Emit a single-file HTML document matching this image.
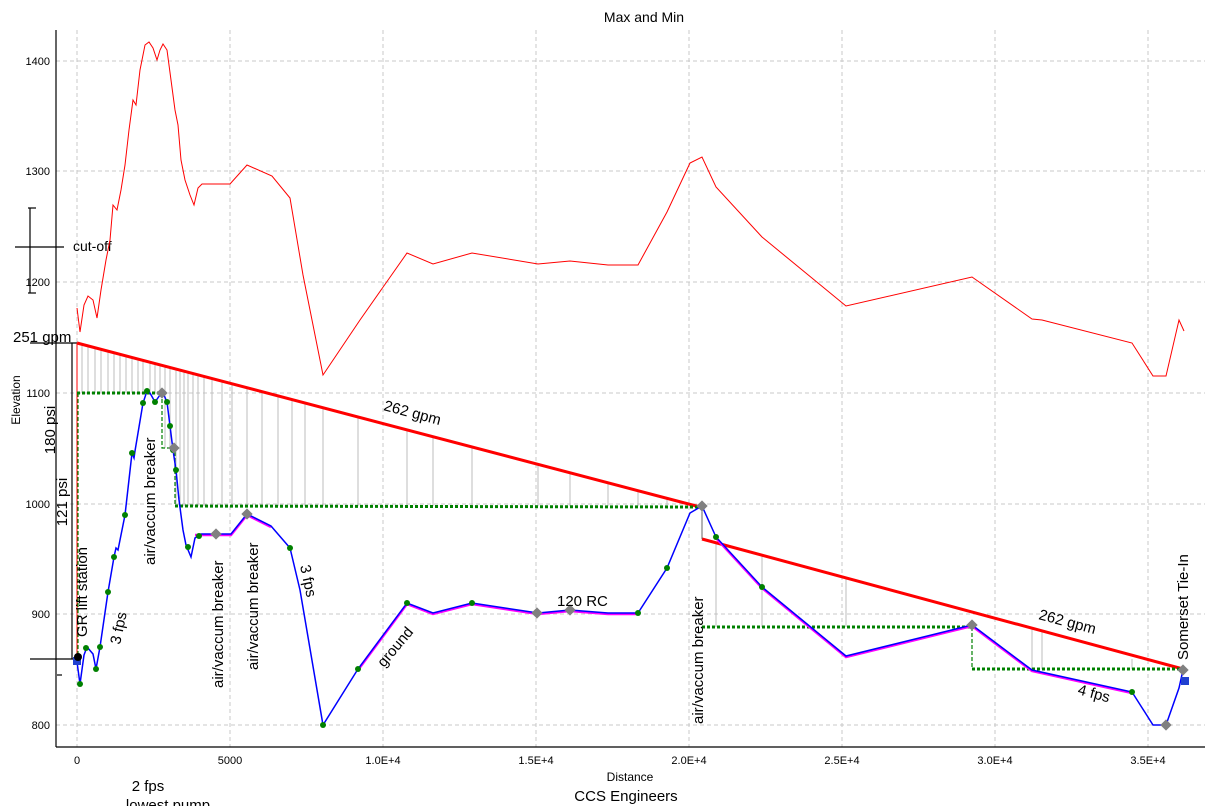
<!DOCTYPE html>
<html><head><meta charset="utf-8"><style>
html,body{margin:0;padding:0;background:#fff;}
svg{display:block;font-family:"Liberation Sans",Arial,sans-serif;}
</style></head><body>
<svg width="1211" height="806" viewBox="0 0 1211 806" xmlns="http://www.w3.org/2000/svg">
<rect width="1211" height="806" fill="#fff"/>
<text x="644" y="22" font-size="14" text-anchor="middle">Max and Min</text>
<g stroke="#c8c8c8" stroke-dasharray="4,3" stroke-width="1">
<line x1="56" y1="61" x2="1205" y2="61"/><line x1="56" y1="171" x2="1205" y2="171"/>
<line x1="56" y1="282" x2="1205" y2="282"/><line x1="56" y1="393" x2="1205" y2="393"/>
<line x1="56" y1="504" x2="1205" y2="504"/><line x1="56" y1="614" x2="1205" y2="614"/>
<line x1="56" y1="725" x2="1205" y2="725"/>
<line x1="77" y1="30" x2="77" y2="747"/><line x1="230" y1="30" x2="230" y2="747"/>
<line x1="383" y1="30" x2="383" y2="747"/><line x1="536" y1="30" x2="536" y2="747"/>
<line x1="689" y1="30" x2="689" y2="747"/><line x1="842" y1="30" x2="842" y2="747"/>
<line x1="995" y1="30" x2="995" y2="747"/><line x1="1148" y1="30" x2="1148" y2="747"/>
</g>
<g stroke="#000" stroke-width="1.2" fill="none">
<line x1="56" y1="30" x2="56" y2="747"/><line x1="56" y1="747" x2="1205" y2="747"/>
<line x1="30" y1="208" x2="30" y2="293"/><line x1="28" y1="208" x2="36" y2="208"/><line x1="28" y1="293" x2="36" y2="293"/>
<line x1="15" y1="247" x2="64" y2="247"/>
<line x1="30" y1="343" x2="77" y2="343"/><line x1="30" y1="659" x2="77" y2="659"/>
<line x1="72" y1="343" x2="72" y2="659"/><line x1="57" y1="675" x2="62" y2="675"/>
</g>
<g font-size="11" text-anchor="end">
<text x="50" y="65">1400</text><text x="50" y="175">1300</text><text x="50" y="286">1200</text>
<text x="50" y="397">1100</text><text x="50" y="508">1000</text><text x="50" y="618">900</text><text x="50" y="729">800</text>
</g>
<g font-size="11" text-anchor="middle">
<text x="77" y="764">0</text><text x="230" y="764">5000</text><text x="383" y="764">1.0E+4</text>
<text x="536" y="764">1.5E+4</text><text x="689" y="764">2.0E+4</text><text x="842" y="764">2.5E+4</text>
<text x="995" y="764">3.0E+4</text><text x="1148" y="764">3.5E+4</text>
</g>
<text x="630" y="781" font-size="12" text-anchor="middle">Distance</text>
<text x="626" y="801" font-size="15" text-anchor="middle">CCS Engineers</text>
<text x="148" y="791" font-size="15" text-anchor="middle">2 fps</text>
<text x="168" y="810" font-size="15" text-anchor="middle">lowest pump</text>
<text transform="translate(20,400) rotate(-90)" font-size="12" text-anchor="middle">Elevation</text>
<text x="73" y="251" font-size="14">cut-off</text>
<text x="13" y="342" font-size="15">251 gpm</text>
<text transform="translate(55,430) rotate(-90)" font-size="15" text-anchor="middle">180 psi</text>
<text transform="translate(67,502) rotate(-90)" font-size="15" text-anchor="middle">121 psi</text>
<g stroke="#bdbdbd" stroke-width="1">
<line x1="82" y1="344" x2="82" y2="393"/><line x1="88" y1="346" x2="88" y2="393"/><line x1="95" y1="348" x2="95" y2="393"/>
<line x1="101" y1="349" x2="101" y2="393"/><line x1="108" y1="351" x2="108" y2="393"/><line x1="114" y1="353" x2="114" y2="393"/>
<line x1="120" y1="354" x2="120" y2="393"/><line x1="126" y1="356" x2="126" y2="393"/><line x1="132" y1="358" x2="132" y2="393"/>
<line x1="138" y1="359" x2="138" y2="393"/><line x1="143" y1="361" x2="143" y2="393"/><line x1="150" y1="362" x2="150" y2="393"/>
<line x1="155" y1="364" x2="155" y2="393"/><line x1="160" y1="365" x2="160" y2="393"/><line x1="165" y1="366" x2="165" y2="448"/>
<line x1="170" y1="368" x2="170" y2="448"/><line x1="176" y1="369" x2="176" y2="506"/><line x1="180" y1="370" x2="180" y2="506"/>
<line x1="184" y1="371" x2="184" y2="506"/><line x1="188" y1="372" x2="188" y2="506"/><line x1="193" y1="374" x2="193" y2="506"/>
<line x1="198" y1="375" x2="198" y2="506"/><line x1="204" y1="377" x2="204" y2="506"/><line x1="212" y1="379" x2="212" y2="506"/>
<line x1="222" y1="381" x2="222" y2="506"/><line x1="232" y1="384" x2="232" y2="506"/><line x1="247" y1="388" x2="247" y2="506"/>
<line x1="262" y1="392" x2="262" y2="506"/><line x1="278" y1="396" x2="278" y2="506"/><line x1="292" y1="400" x2="292" y2="506"/>
<line x1="305" y1="403" x2="305" y2="506"/><line x1="323" y1="408" x2="323" y2="506"/><line x1="358" y1="417" x2="358" y2="506"/>
<line x1="407" y1="430" x2="407" y2="506"/><line x1="433" y1="437" x2="433" y2="506"/><line x1="472" y1="447" x2="472" y2="506"/>
<line x1="538" y1="464" x2="538" y2="506"/><line x1="570" y1="473" x2="570" y2="506"/><line x1="608" y1="483" x2="608" y2="506"/>
<line x1="638" y1="491" x2="638" y2="506"/><line x1="667" y1="498" x2="667" y2="506"/>
<line x1="716" y1="543" x2="716" y2="627"/><line x1="762" y1="556" x2="762" y2="627"/><line x1="846" y1="578" x2="846" y2="627"/>
<line x1="1032" y1="629" x2="1032" y2="669"/><line x1="1042" y1="632" x2="1042" y2="669"/><line x1="1132" y1="659" x2="1132" y2="669"/>
</g>
<polyline fill="none" stroke="#ff0000" stroke-width="1" points="77,308 80,332 84,305 88,296 93,300 97,318 101,290 106,260 110,240 113,205 117,210 121,190 125,165 129,130 133,100 136,105 140,70 145,45 149,42 153,48 157,60 160,50 163,44 167,50 171,80 175,110 178,125 181,160 185,180 190,195 194,205 198,188 202,184 230,184 247,165 272,176 290,198 303,275 323,375 360,320 407,253 433,264 472,253 538,264 570,261 608,265 638,265 667,212 690,163 702,157 716,187 762,237 846,306 972,277 1032,319 1042,320 1132,343 1153,376 1166,376 1179,320 1184,331"/>
<line x1="77" y1="343" x2="77" y2="660" stroke="#ff0000" stroke-width="1"/>
<line x1="77" y1="343" x2="700" y2="507" stroke="#ff0000" stroke-width="3"/>
<line x1="702" y1="539" x2="1183" y2="669" stroke="#ff0000" stroke-width="3"/>
<line x1="702" y1="507" x2="702" y2="539" stroke="#666" stroke-width="1"/>
<g fill="none" stroke="#008000" stroke-width="3" stroke-dasharray="3,2">
<polyline points="77,393 162,393"/><polyline points="175,506 700,507"/>
<polyline points="702,627 972,627"/><polyline points="972,669 1183,669"/>
</g>
<g fill="none" stroke="#008000" stroke-width="1.2" stroke-dasharray="4,2">
<polyline points="78,393 78,660"/><polyline points="162,393 162,448 175,448 175,506"/><polyline points="972,627 972,669"/>
</g>
<polyline fill="none" stroke="#ff00ff" stroke-width="2.5" points="195,535 231,535 247,515 271,527"/>
<polyline fill="none" stroke="#ff00ff" stroke-width="2.5" points="358,670 407,604 433,614 472,604 538,614 570,611 608,614 638,614"/>
<polyline fill="none" stroke="#ff00ff" stroke-width="2.5" points="716,538 762,588 846,657 972,626 1032,671 1132,693"/>
<polyline fill="none" stroke="#0000ff" stroke-width="1.5" points="77,662 80,684 84,655 87,647 93,654 96,669 100,647 108,592 114,557 116,548 118,550 125,515 132,453 134,458 135,451 143,403 147,391 150,393 155,402 160,395 163,393 167,402 170,426 173,450 176,470 179,500 183,530 186,545 191,557 195,538 201,534 231,534 247,514 271,526 290,548 300,590 323,725 358,669 407,603 433,613 472,603 538,613 570,610 608,613 638,613 667,568 690,513 702,506 716,537 762,587 846,656 972,625 1032,670 1132,692 1153,725 1166,725 1179,688 1183,670"/>
<g fill="#008000">
<circle cx="80" cy="684" r="3"/><circle cx="86" cy="648" r="3"/><circle cx="96" cy="669" r="3"/><circle cx="100" cy="647" r="3"/>
<circle cx="108" cy="592" r="3"/><circle cx="114" cy="557" r="3"/><circle cx="125" cy="515" r="3"/><circle cx="132" cy="453" r="3"/>
<circle cx="143" cy="403" r="3"/><circle cx="147" cy="391" r="3"/><circle cx="155" cy="402" r="3"/><circle cx="167" cy="402" r="3"/>
<circle cx="170" cy="426" r="3"/><circle cx="173" cy="450" r="3"/><circle cx="176" cy="470" r="3"/><circle cx="188" cy="547" r="3"/>
<circle cx="199" cy="536" r="3"/><circle cx="290" cy="548" r="3"/><circle cx="323" cy="725" r="3"/><circle cx="358" cy="669" r="3"/>
<circle cx="407" cy="603" r="3"/><circle cx="472" cy="603" r="3"/><circle cx="638" cy="613" r="3"/><circle cx="667" cy="568" r="3"/>
<circle cx="716" cy="537" r="3"/><circle cx="762" cy="587" r="3"/><circle cx="1132" cy="692" r="3"/>
</g>
<g fill="#808080">
<rect x="158" y="389" width="8" height="8" transform="rotate(45 162 393)"/><rect x="170" y="444" width="8" height="8" transform="rotate(45 174 448)"/>
<rect x="212" y="530" width="8" height="8" transform="rotate(45 216 534)"/><rect x="243" y="510" width="8" height="8" transform="rotate(45 247 514)"/>
<rect x="533" y="609" width="8" height="8" transform="rotate(45 537 613)"/><rect x="566" y="606" width="8" height="8" transform="rotate(45 570 610)"/>
<rect x="698" y="502" width="8" height="8" transform="rotate(45 702 506)"/><rect x="968" y="621" width="8" height="8" transform="rotate(45 972 625)"/>
<rect x="1162" y="721" width="8" height="8" transform="rotate(45 1166 725)"/><rect x="1179" y="666" width="8" height="8" transform="rotate(45 1183 670)"/>
</g>
<rect x="73" y="657" width="8" height="8" fill="#2040d0"/><circle cx="78" cy="657" r="4" fill="#000"/>
<rect x="1181" y="677" width="8" height="8" fill="#2040d0"/>
<g font-size="15">
<text transform="translate(87,637) rotate(-90)">GR lift station</text>
<text transform="translate(120,645) rotate(-78)">3 fps</text>
<text transform="translate(155,565) rotate(-90)">air/vaccum breaker</text>
<text transform="translate(223,688) rotate(-90)">air/vaccum breaker</text>
<text transform="translate(258,670) rotate(-90)">air/vaccum breaker</text>
<text transform="translate(300,566) rotate(78)">3 fps</text>
<text transform="translate(384,668) rotate(-50)">ground</text>
<text x="557" y="606">120 RC</text>
<text transform="translate(383,410) rotate(15)">262 gpm</text>
<text transform="translate(703,724) rotate(-90)">air/vaccum breaker</text>
<text transform="translate(1038,619) rotate(15)">262 gpm</text>
<text transform="translate(1077,694) rotate(15)">4 fps</text>
<text transform="translate(1188,660) rotate(-90)">Somerset Tie-In</text>
</g>
</svg>
</body></html>
